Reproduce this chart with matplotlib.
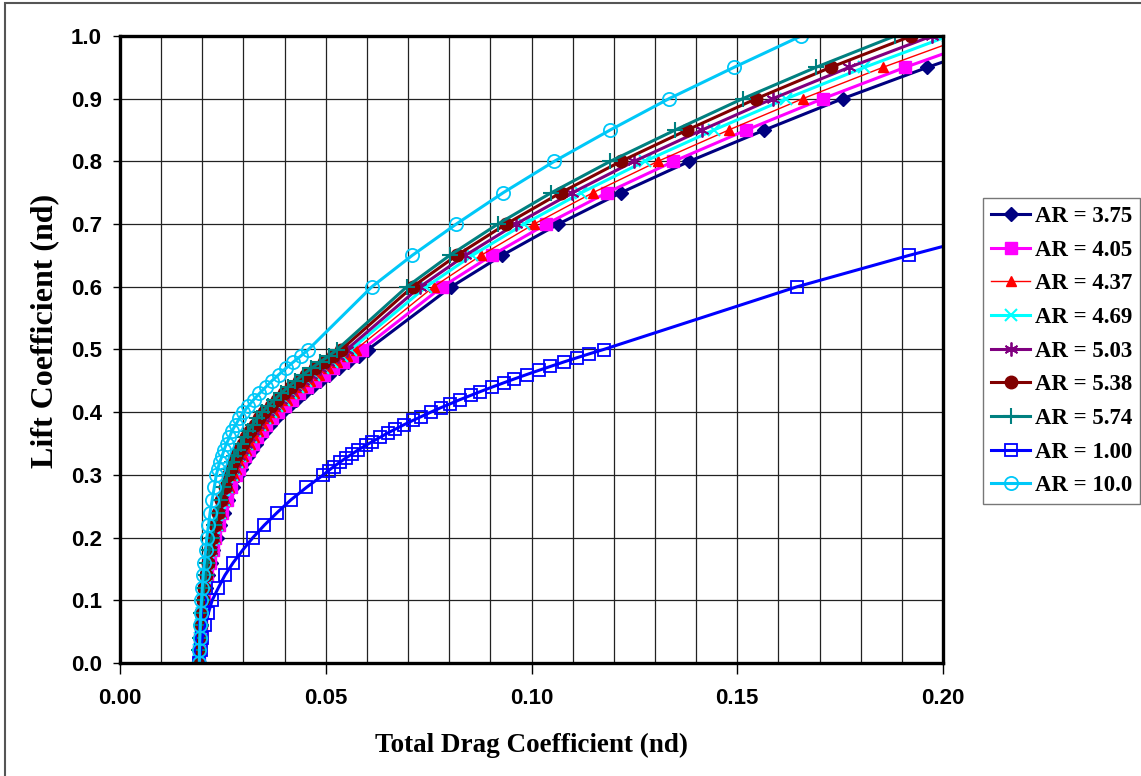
import matplotlib
matplotlib.use("Agg")
import matplotlib.pyplot as plt
from matplotlib.patches import Rectangle
from matplotlib.ticker import MultipleLocator

# lift coefficient grid shared by the AR = 3.75 ... 10.0 curves
cl_main = [0.00, 0.02, 0.04, 0.06, 0.08, 0.10, 0.12, 0.14, 0.16, 0.18, 0.20, 0.22, 0.24, 0.26, 0.28,
           0.30, 0.31, 0.32, 0.33, 0.34, 0.35, 0.36, 0.37, 0.38, 0.39, 0.40, 0.41, 0.42, 0.43, 0.44,
           0.45, 0.46, 0.47, 0.48, 0.49, 0.50,
           0.60, 0.65, 0.70, 0.75, 0.80, 0.85, 0.90, 0.95, 1.00]

cd_ar375 = [0.0193, 0.0193, 0.0195, 0.0197, 0.0200, 0.0203, 0.0208, 0.0213, 0.0220, 0.0227, 0.0235, 0.0243, 0.0253, 0.0263, 0.0275,
            0.0287, 0.0294, 0.0302, 0.0311, 0.0320, 0.0330, 0.0341, 0.0352, 0.0365, 0.0379, 0.0393, 0.0410, 0.0428, 0.0446, 0.0466,
            0.0487, 0.0508, 0.0531, 0.0555, 0.0580, 0.0603,
            0.0805, 0.0928, 0.1065, 0.1217, 0.1383, 0.1566, 0.1756, 0.1962, 0.2183]
cd_ar405 = [0.0193, 0.0193, 0.0195, 0.0197, 0.0199, 0.0203, 0.0207, 0.0212, 0.0218, 0.0225, 0.0232, 0.0240, 0.0249, 0.0259, 0.0270,
            0.0281, 0.0288, 0.0295, 0.0304, 0.0313, 0.0323, 0.0333, 0.0344, 0.0356, 0.0369, 0.0383, 0.0400, 0.0417, 0.0435, 0.0454,
            0.0475, 0.0496, 0.0518, 0.0541, 0.0565, 0.0588,
            0.0783, 0.0903, 0.1036, 0.1183, 0.1345, 0.1522, 0.1708, 0.1908, 0.2123]
cd_ar437 = [0.0193, 0.0193, 0.0194, 0.0196, 0.0199, 0.0202, 0.0206, 0.0211, 0.0217, 0.0223, 0.0230, 0.0238, 0.0246, 0.0255, 0.0265,
            0.0276, 0.0282, 0.0289, 0.0298, 0.0306, 0.0316, 0.0325, 0.0335, 0.0348, 0.0360, 0.0374, 0.0390, 0.0406, 0.0424, 0.0443,
            0.0462, 0.0483, 0.0505, 0.0527, 0.0551, 0.0573,
            0.0762, 0.0877, 0.1006, 0.1149, 0.1307, 0.1479, 0.1659, 0.1854, 0.2063]
cd_ar469 = [0.0193, 0.0193, 0.0194, 0.0196, 0.0199, 0.0202, 0.0206, 0.0210, 0.0215, 0.0221, 0.0228, 0.0235, 0.0243, 0.0252, 0.0261,
            0.0271, 0.0278, 0.0284, 0.0292, 0.0301, 0.0309, 0.0319, 0.0329, 0.0340, 0.0353, 0.0366, 0.0381, 0.0398, 0.0415, 0.0433,
            0.0452, 0.0472, 0.0493, 0.0516, 0.0539, 0.0561,
            0.0744, 0.0856, 0.0982, 0.1121, 0.1275, 0.1443, 0.1619, 0.1809, 0.2013]
cd_ar503 = [0.0193, 0.0193, 0.0194, 0.0196, 0.0198, 0.0201, 0.0205, 0.0209, 0.0214, 0.0220, 0.0226, 0.0233, 0.0241, 0.0249, 0.0258,
            0.0268, 0.0274, 0.0280, 0.0288, 0.0296, 0.0305, 0.0314, 0.0323, 0.0335, 0.0347, 0.0359, 0.0375, 0.0391, 0.0408, 0.0425,
            0.0444, 0.0464, 0.0485, 0.0506, 0.0529, 0.0551,
            0.0729, 0.0839, 0.0962, 0.1099, 0.1249, 0.1414, 0.1586, 0.1772, 0.1973]
cd_ar538 = [0.0193, 0.0193, 0.0194, 0.0196, 0.0198, 0.0201, 0.0204, 0.0208, 0.0213, 0.0218, 0.0224, 0.0231, 0.0238, 0.0246, 0.0254,
            0.0263, 0.0269, 0.0275, 0.0282, 0.0290, 0.0298, 0.0307, 0.0316, 0.0327, 0.0339, 0.0351, 0.0366, 0.0382, 0.0398, 0.0416,
            0.0434, 0.0453, 0.0474, 0.0495, 0.0517, 0.0538,
            0.0711, 0.0818, 0.0938, 0.1071, 0.1217, 0.1378, 0.1546, 0.1727, 0.1923]
cd_ar574 = [0.0193, 0.0193, 0.0194, 0.0196, 0.0198, 0.0200, 0.0204, 0.0208, 0.0212, 0.0217, 0.0223, 0.0229, 0.0236, 0.0243, 0.0251,
            0.0260, 0.0265, 0.0271, 0.0278, 0.0286, 0.0294, 0.0302, 0.0311, 0.0322, 0.0333, 0.0345, 0.0359, 0.0375, 0.0391, 0.0408,
            0.0426, 0.0445, 0.0465, 0.0486, 0.0508, 0.0528,
            0.0697, 0.0801, 0.0918, 0.1048, 0.1191, 0.1349, 0.1513, 0.1691, 0.1883]
cd_ar100_10 = [0.0193, 0.0193, 0.0194, 0.0195, 0.0196, 0.0198, 0.0200, 0.0202, 0.0205, 0.0208, 0.0211, 0.0215, 0.0219, 0.0224, 0.0229,
               0.0234, 0.0238, 0.0242, 0.0248, 0.0253, 0.0259, 0.0266, 0.0272, 0.0281, 0.0290, 0.0300, 0.0312, 0.0325, 0.0339, 0.0354,
               0.0369, 0.0386, 0.0403, 0.0421, 0.0440, 0.0458,
               0.0612, 0.0710, 0.0817, 0.0931, 0.1055, 0.1191, 0.1334, 0.1492, 0.1655]

# AR = 1.00 has its own, denser grid between 0.3 and 0.5
cl_ar1 = [0.00, 0.02, 0.04, 0.06, 0.08, 0.10, 0.12, 0.14, 0.16, 0.18, 0.20, 0.22, 0.24, 0.26, 0.28,
          0.300, 0.307, 0.313, 0.320, 0.327, 0.333, 0.340, 0.347, 0.353, 0.360, 0.367, 0.373, 0.380, 0.387, 0.393,
          0.400, 0.407, 0.413, 0.420, 0.427, 0.433, 0.440, 0.447, 0.453, 0.460, 0.467, 0.473, 0.480, 0.487, 0.493,
          0.500, 0.60, 0.65, 0.70]
cd_ar1 = [0.0193, 0.0196, 0.0200, 0.0207, 0.0215, 0.0224, 0.0239, 0.0255, 0.0275, 0.0298, 0.0323, 0.0351, 0.0382, 0.0415, 0.0453,
          0.0494, 0.0507, 0.0519, 0.0534, 0.0549, 0.0563, 0.0579, 0.0597, 0.0613, 0.0632, 0.0651, 0.0669, 0.0690, 0.0712, 0.0732,
          0.0755, 0.0779, 0.0801, 0.0826, 0.0853, 0.0876, 0.0904, 0.0933, 0.0958, 0.0988, 0.1019, 0.1046, 0.1078, 0.1111, 0.1140,
          0.1175, 0.1645, 0.1917, 0.2205]

labels = ["AR = 3.75", "AR = 4.05", "AR = 4.37", "AR = 4.69", "AR = 5.03",
          "AR = 5.38", "AR = 5.74", "AR = 1.00", "AR = 10.0"]

fig = plt.figure(figsize=(11.41, 7.76), dpi=100)
ax = fig.add_axes([120 / 1141, 1 - 663 / 776, 823 / 1141, 627 / 776])

# outer chart-area frame
fig.patches.append(Rectangle((5 / 1141, -0.1), 1.2, 1.1 - 3 / 776, transform=fig.transFigure,
                             fill=False, edgecolor="#555555", linewidth=1.5))

lw = 2.2
ax.plot(cd_ar375, cl_main, color="#000080", lw=lw, marker="D", ms=7.5, label=labels[0])
ax.plot(cd_ar405, cl_main, color="#FF00FF", lw=lw, marker="s", ms=9, label=labels[1])
ax.plot(cd_ar437, cl_main, color="#FF0000", lw=1.0, marker="^", ms=7, label=labels[2])
ax.plot(cd_ar469, cl_main, color="#00FFFF", lw=lw, marker="x", ms=9, mew=1.5, label=labels[3])
ax.plot(cd_ar503, cl_main, color="#800080", lw=lw, marker=(6, 2, 0), ms=10, mew=1.3, label=labels[4])
ax.plot(cd_ar538, cl_main, color="#800000", lw=lw, marker="o", ms=9, label=labels[5])
ax.plot(cd_ar574, cl_main, color="#008080", lw=lw, marker="+", ms=11, mew=1.5, label=labels[6])
ax.plot(cd_ar1, cl_ar1, color="#0000FF", lw=lw, marker="s", ms=9, mfc="none", mew=1.3, label=labels[7])
ax.plot(cd_ar100_10, cl_main, color="#00C8F8", lw=lw, marker="o", ms=9.5, mfc="none", mew=1.3, label=labels[8])

ax.set_xlim(0, 0.2)
ax.set_ylim(0, 1.0)
ax.xaxis.set_major_locator(MultipleLocator(0.05))
ax.xaxis.set_minor_locator(MultipleLocator(0.01))
ax.yaxis.set_major_locator(MultipleLocator(0.1))
ax.grid(True, which="both", color="#222222", lw=0.9)
ax.set_axisbelow(True)
for s in ax.spines.values():
    s.set_linewidth(2.4)

ax.tick_params(axis="x", which="major", direction="out", length=8, width=1, pad=10)
ax.tick_params(axis="x", which="minor", length=0)
ax.tick_params(axis="y", direction="out", length=5, width=1, pad=8)
ax.set_xticklabels(["%.2f" % v for v in ax.get_xticks()])
ax.set_yticklabels(["%.1f" % v for v in ax.get_yticks()])
for t in ax.get_xticklabels() + ax.get_yticklabels():
    t.set_fontfamily("Liberation Sans")
    t.set_fontweight("bold")
    t.set_fontsize(16)

ax.set_xlabel("Total Drag Coefficient (nd)", family="Liberation Serif", weight="bold", fontsize=19.5, labelpad=17)
ax.set_ylabel("Lift Coefficient (nd)", family="Liberation Serif", weight="bold", fontsize=23, labelpad=8)
ax.yaxis.set_label_coords(-0.074, 0.53)

leg = ax.legend(loc="upper left", bbox_to_anchor=(983 / 1141, 1 - 198 / 776), bbox_transform=fig.transFigure,
                borderaxespad=0, frameon=True, fancybox=False, handlelength=1.7, handletextpad=0.2,
                labelspacing=0.55, borderpad=0.35, prop={"family": "Liberation Serif", "weight": "bold", "size": 16.5})
leg.get_frame().set_edgecolor("#555555")
leg.get_frame().set_linewidth(1.0)

fig.savefig("out.png", dpi=100)
